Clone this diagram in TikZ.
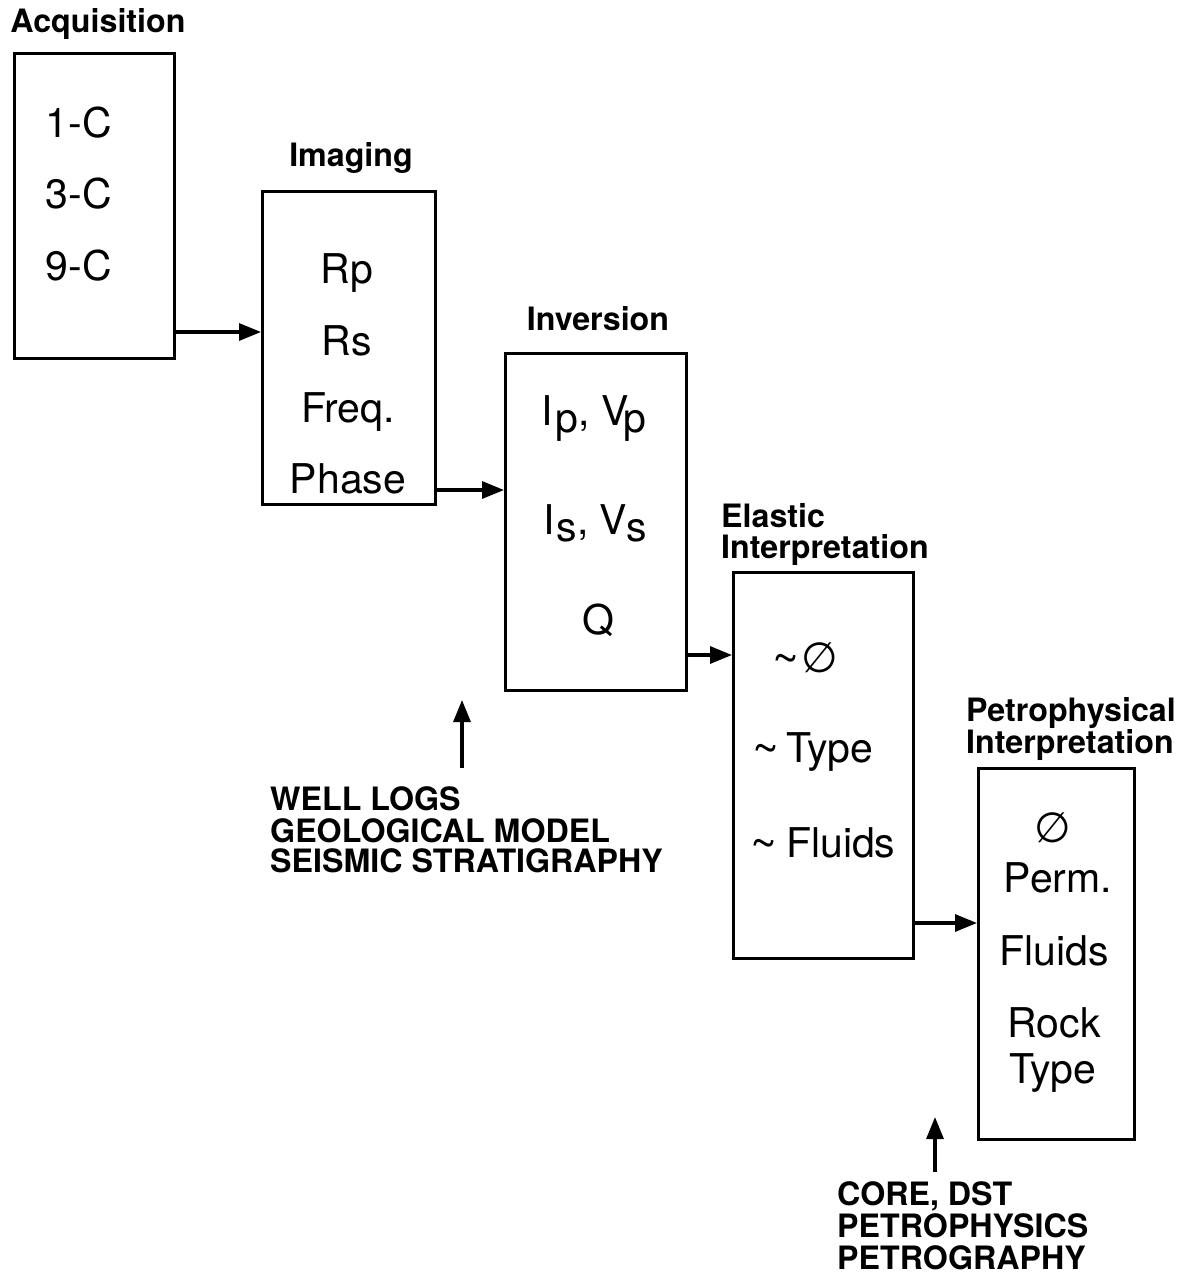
\documentclass[tikz,border=0pt]{standalone}
\usepackage{fontspec}
\setmainfont{TeX Gyre Heros}
\newfontfamily\dejavu{DejaVu Sans}
\usetikzlibrary{arrows.meta}
\newcommand\tld{{\fontsize{46}{46}\selectfont\raisebox{-2pt}{\char"7E}}}
\newcommand\emptyphi{{\dejavu\fontsize{42}{42}\selectfont ∅}}
\begin{document}
\begin{tikzpicture}[x=1pt,y=-1pt,
  blk/.style={draw, line width=3.2pt, inner sep=0pt, anchor=north west},
  body/.style={font=\fontsize{41}{41}\selectfont, inner sep=0pt},
  head/.style={font=\bfseries\fontsize{32.2}{32.2}\selectfont, inner sep=0pt},
  arr/.style={line width=3.2pt, -{Triangle[length=22pt,width=17pt]}},
]
\fill[white] (0,0) rectangle (1184,1275);
\useasboundingbox (0,0) rectangle (1184,1275);

% boxes
\node[blk, minimum width=160pt, minimum height=305pt] (A) at (13,52) {};
\node[blk, minimum width=173pt, minimum height=313pt] (B) at (261,190) {};
\node[blk, minimum width=181pt, minimum height=337pt] (C) at (504,352) {};
\node[blk, minimum width=180pt, minimum height=386pt] (D) at (732,571) {};
\node[blk, minimum width=156pt, minimum height=371pt] (E) at (977,767) {};

% headings
\node[head, anchor=base] (hA) at (98,32) {Acquisition};
\node[head, anchor=base] (hB) at (351,166) {Imaging};
\node[head, anchor=base] (hC) at (598,330) {Inversion};
\node[head, anchor=base west] (hD1) at (721,527) {Elastic};
\node[head, anchor=base west] (hD2) at (721,558) {Interpretation};
\node[head, anchor=base west] (hE1) at (966,721) {Petrophysical};
\node[head, anchor=base west] (hE2) at (966,753) {Interpretation};

% box A contents
\node[body, anchor=base] (a1) at (79,137) {1-C};
\node[body, anchor=base] (a2) at (79,208) {3-C};
\node[body, anchor=base] (a3) at (79,280) {9-C};

% box B contents
\node[body, anchor=base] (b1) at (347,283) {Rp};
\node[body, anchor=base] (b2) at (347,355) {Rs};
\node[body, anchor=base] (b3) at (348,422) {Freq.};
\node[body, anchor=base] (b4) at (348,493) {Phase};

% box C contents
\node[body, anchor=base west] (c1) at (541,425) {I\kern3pt\raisebox{-7pt}{p}, V\kern-5pt\raisebox{-7pt}{p}};
\node[body, anchor=base west] (c2) at (543,534) {I\kern2pt\raisebox{-7pt}{s}, V\kern-1pt\raisebox{-7pt}{s}};
\node[body, anchor=base] (c3) at (598,634) {Q};

% box D contents
\node[body, anchor=base west] (d1) at (772,672) {\tld\kern2pt\emptyphi};
\node[body, anchor=base west] (d2) at (752,762) {\tld\kern7pt Type};
\node[body, anchor=base west] (d3) at (750,857) {\tld\kern9pt Fluids};

% box E contents
\node[body, anchor=base] (e1) at (1053,842) {\emptyphi};
\node[body, anchor=base] (e2) at (1058,892) {Perm.};
\node[body, anchor=base] (e3) at (1054,965) {Fluids};
\node[body, anchor=base] (e4) at (1054,1037) {Rock};
\node[body, anchor=base] (e5) at (1053,1083) {Type};

% connectors between boxes
\draw[arr] (A.east |- 0,332) -- (B.west |- 0,332);
\draw[arr] (B.east |- 0,490) -- (C.west |- 0,490);
\draw[arr] (C.east |- 0,655) -- (D.west |- 0,655);
\draw[arr] (D.east |- 0,923) -- (E.west |- 0,923);

% input arrows
\coordinate (w0) at (462,768);
\coordinate (w1) at (462,700);
\draw[arr] (w0) -- (w1);
\coordinate (p0) at (935,1172);
\coordinate (p1) at (935,1117);
\draw[arr] (p0) -- (p1);

% input labels
\node[head, anchor=base west] (l1) at (270,810) {WELL LOGS};
\node[head, anchor=base west] (l2) at (270,842) {GEOLOGICAL MODEL};
\node[head, anchor=base west] (l3) at (270,872) {SEISMIC STRATIGRAPHY};
\node[head, anchor=base west] (m1) at (837,1205) {CORE, DST};
\node[head, anchor=base west] (m2) at (837,1237) {PETROPHYSICS};
\node[head, anchor=base west] (m3) at (837,1269) {PETROGRAPHY};
\end{tikzpicture}
\end{document}
